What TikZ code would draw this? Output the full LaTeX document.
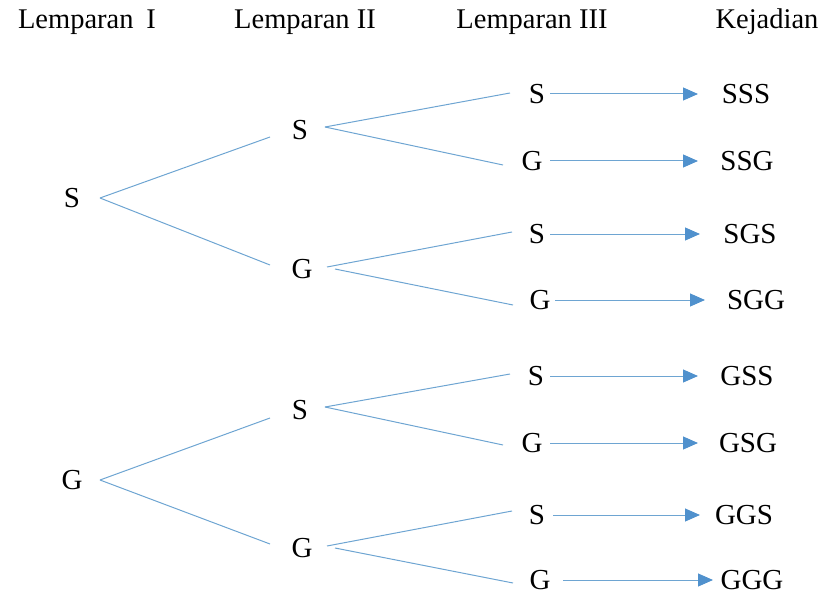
\documentclass[tikz,border=0pt]{standalone}
\usepackage{fontspec}
\setmainfont{Liberation Serif}
\usetikzlibrary{calc,arrows.meta}
\definecolor{lineblue}{RGB}{110,165,210}
\definecolor{tipblue}{RGB}{80,145,205}
\begin{document}
\begin{tikzpicture}[x=1pt,y=-1pt,
  lbl/.style={inner sep=0pt,font=\fontsize{29}{31}\selectfont},
  hdr/.style={inner sep=0pt,anchor=base,font=\fontsize{28.5}{30}\selectfont},
  br/.style={draw=lineblue,line width=1pt},
  arr/.style={draw=lineblue,line width=1pt,-{Triangle[length=15pt,width=13pt,color=tipblue]}}]
\useasboundingbox (0,0) rectangle (821,596);
% headers
\node[hdr] (h1) at (87,29) {Lemparan\hspace{0.45em}I};
\node[hdr] (h2) at (305,29) {Lemparan II};
\node[hdr] (h3) at (532,29) {Lemparan III};
\node[hdr] (h4) at (767,29) {Kejadian};
% level 1
\node[lbl] (s1) at (72,198) {S};
\node[lbl] (g1) at (72,480) {G};
% level 2
\node[lbl] (s21) at (300,130) {S};
\node[lbl] (g21) at (302,269) {G};
\node[lbl] (s22) at (300,410) {S};
\node[lbl] (g22) at (302,548) {G};
% level 3
\node[lbl] (s31) at (537,94) {S};
\node[lbl] (g31) at (532,161) {G};
\node[lbl] (s32) at (537,234) {S};
\node[lbl] (g32) at (540,300) {G};
\node[lbl] (s33) at (536,376) {S};
\node[lbl] (g33) at (532,443) {G};
\node[lbl] (s34) at (537,515) {S};
\node[lbl] (g34) at (540,580) {G};
% outcomes
\node[lbl] (o1) at (746,94) {SSS};
\node[lbl] (o2) at (747,161) {SSG};
\node[lbl] (o3) at (750,234) {SGS};
\node[lbl] (o4) at (756,300) {SGG};
\node[lbl] (o5) at (747,376) {GSS};
\node[lbl] (o6) at (748,443) {GSG};
\node[lbl] (o7) at (744,515) {GGS};
\node[lbl] (o8) at (752,580) {GGG};
% level 1 -> 2
\draw[br] ($(s1)+(28,0)$) -- ($(s21)+(-30,7)$);
\draw[br] ($(s1)+(28,0)$) -- ($(g21)+(-32,-4)$);
\draw[br] ($(g1)+(28,0)$) -- ($(s22)+(-30,8)$);
\draw[br] ($(g1)+(28,0)$) -- ($(g22)+(-32,-4)$);
% level 2 -> 3
\draw[br] ($(s21)+(25,-3)$) -- ($(s31)+(-27,-1)$);
\draw[br] ($(s21)+(25,-3)$) -- ($(g31)+(-29,4)$);
\draw[br] ($(g21)+(25,-2)$) -- ($(s32)+(-25,-2)$);
\draw[br] ($(g21)+(33,0)$) -- ($(g32)+(-27,5)$);
\draw[br] ($(s22)+(25,-3)$) -- ($(s33)+(-26,-2)$);
\draw[br] ($(s22)+(25,-3)$) -- ($(g33)+(-29,2)$);
\draw[br] ($(g22)+(25,-2)$) -- ($(s34)+(-25,-4)$);
\draw[br] ($(g22)+(33,0)$) -- ($(g34)+(-27,3)$);
% arrows
\draw[arr] ($(s31)+(13,0)$) -- ($(o1)+(-48,0)$);
\draw[arr] ($(g31)+(18,0)$) -- ($(o2)+(-49,0)$);
\draw[arr] ($(s32)+(13,0)$) -- ($(o3)+(-50,0)$);
\draw[arr] ($(g32)+(15,0)$) -- ($(o4)+(-51,0)$);
\draw[arr] ($(s33)+(14,0)$) -- ($(o5)+(-49,0)$);
\draw[arr] ($(g33)+(18,0)$) -- ($(o6)+(-50,0)$);
\draw[arr] ($(s34)+(16,0)$) -- ($(o7)+(-44,0)$);
\draw[arr] ($(g34)+(23,0)$) -- ($(o8)+(-39,0)$);
\end{tikzpicture}
\end{document}
